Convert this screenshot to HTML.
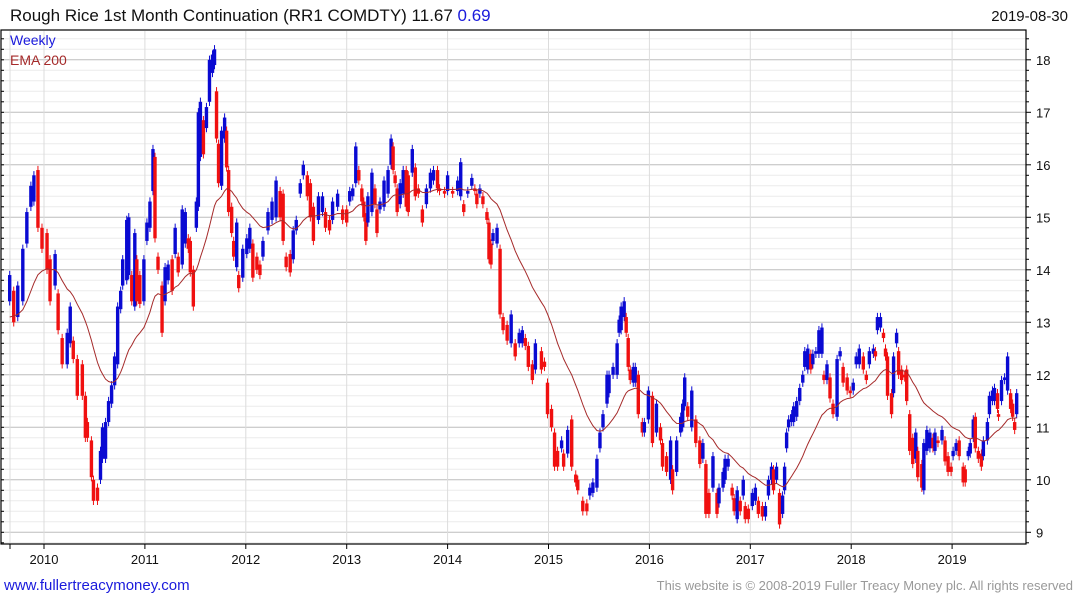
<!DOCTYPE html>
<html><head><meta charset="utf-8">
<style>
html,body{margin:0;padding:0;background:#fff;width:1075px;height:600px;overflow:hidden;font-family:"Liberation Sans","DejaVu Sans",sans-serif;}
svg{display:block}
</style></head>
<body>
<svg id="chart" width="1075" height="600" xmlns="http://www.w3.org/2000/svg">
  <text x="10" y="21" font-size="17" fill="#111">Rough Rice 1st Month Continuation (RR1 COMDTY) 11.67 <tspan fill="#1a1adc">0.69</tspan></text>
  <text x="1068" y="21" font-size="15" fill="#111" text-anchor="end">2019-08-30</text>
  <g id="grid"></g>
  <g id="marks"></g>
  <path id="ema" fill="none" stroke="#a52a2a" stroke-width="1"/>
  <rect x="1" y="30" width="1025" height="514" fill="none" stroke="#000" stroke-width="1.2"/>
  <g id="axes"></g>
  <text x="10" y="45" font-size="14" fill="#1a1adc">Weekly</text>
  <text x="10" y="65" font-size="14" fill="#a52a2a">EMA 200</text>
  <text x="4" y="590" font-size="15" fill="#1a1adc">www.fullertreacymoney.com</text>
  <text x="1073" y="590" font-size="13" fill="#999" text-anchor="end">This website is © 2008-2019 Fuller Treacy Money plc. All rights reserved</text>
</svg>
<script>
const dates=[2009.66,2009.70,2009.74,2009.79,2009.83,2009.87,2009.90,2009.94,2009.98,2010.03,2010.06,2010.11,2010.14,2010.18,2010.23,2010.26,2010.29,2010.33,2010.38,2010.41,2010.43,2010.47,2010.49,2010.53,2010.56,2010.58,2010.61,2010.64,2010.67,2010.70,2010.73,2010.76,2010.78,2010.82,2010.84,2010.87,2010.90,2010.92,2010.95,2010.99,
2011.02,2011.05,2011.08,2011.10,2011.13,2011.17,2011.20,2011.23,2011.27,2011.30,2011.33,2011.37,2011.40,2011.43,2011.45,2011.48,2011.51,2011.53,2011.55,2011.58,2011.61,2011.64,2011.67,2011.69,2011.71,2011.73,2011.76,2011.79,2011.81,2011.83,2011.86,2011.88,2011.91,2011.93,2011.97,
2012.01,2012.04,2012.07,2012.11,2012.14,2012.17,2012.22,2012.26,2012.30,2012.34,2012.37,2012.40,2012.44,2012.47,2012.50,2012.54,2012.57,2012.61,2012.64,2012.67,2012.72,2012.76,2012.79,2012.83,2012.86,2012.91,2012.96,
2013.00,2013.03,2013.06,2013.09,2013.12,2013.15,2013.17,2013.19,2013.21,2013.25,2013.28,2013.30,2013.33,2013.37,2013.41,2013.44,2013.46,2013.48,2013.50,2013.53,2013.56,2013.59,2013.61,2013.65,2013.68,2013.71,2013.75,2013.79,2013.83,2013.86,2013.90,2013.92,2013.97,
2014.00,2014.05,2014.10,2014.13,2014.16,2014.20,2014.24,2014.27,2014.29,2014.32,2014.35,2014.39,2014.41,2014.43,2014.45,2014.49,2014.52,2014.55,2014.59,2014.63,2014.67,2014.71,2014.74,2014.77,2014.80,2014.84,2014.87,2014.93,2014.96,2014.99,
2015.03,2015.06,2015.09,2015.13,2015.15,2015.19,2015.23,2015.27,2015.29,2015.34,2015.38,2015.41,2015.44,2015.48,2015.51,2015.54,2015.58,2015.60,2015.64,2015.68,2015.70,2015.72,2015.75,2015.77,2015.79,2015.81,2015.84,2015.86,2015.89,2015.93,2015.95,2015.99,
2016.03,2016.07,2016.11,2016.13,2016.17,2016.21,2016.23,2016.27,2016.31,2016.33,2016.35,2016.38,2016.42,2016.46,2016.50,2016.53,2016.56,2016.59,2016.63,2016.67,2016.69,2016.73,2016.75,2016.78,2016.82,2016.84,2016.87,2016.90,2016.93,2016.95,2016.98,
2017.02,2017.05,2017.08,2017.12,2017.15,2017.18,2017.21,2017.23,2017.26,2017.29,2017.32,2017.34,2017.36,2017.38,2017.41,2017.43,2017.46,2017.49,2017.52,2017.54,2017.57,2017.60,2017.62,2017.65,2017.68,2017.71,2017.73,2017.76,2017.79,2017.82,2017.86,2017.89,2017.92,2017.96,2017.99,
2018.02,2018.05,2018.08,2018.12,2018.15,2018.18,2018.22,2018.24,2018.26,2018.29,2018.32,2018.34,2018.36,2018.40,2018.42,2018.45,2018.47,2018.50,2018.53,2018.55,2018.58,2018.61,2018.64,2018.66,2018.70,2018.72,2018.75,2018.78,2018.81,2018.83,2018.86,2018.90,2018.93,2018.96,2018.99,
2019.01,2019.04,2019.07,2019.11,2019.13,2019.16,2019.18,2019.21,2019.23,2019.26,2019.29,2019.31,2019.35,2019.37,2019.40,2019.42,2019.45,2019.46,2019.49,2019.52,2019.55,2019.58,2019.60,2019.62,2019.64];
const highs=[13.9,13.6,13.7,14.4,15.1,15.6,15.8,15.9,14.8,14.7,14.2,14.3,13.55,12.7,12.8,13.3,12.65,12.3,12.2,11.6,11.1,10.75,10.0,9.85,10.55,11.0,11.1,11.5,11.8,12.35,13.3,13.6,14.2,14.95,15.0,13.9,14.7,14.2,13.9,14.2,
14.9,15.3,16.3,16.15,14.25,13.7,14.05,14.1,14.2,14.8,14.25,15.15,15.1,14.6,14.55,14.0,15.3,17.0,17.2,16.85,17.1,18.0,18.1,18.2,17.4,16.4,16.65,16.9,16.65,15.9,15.2,14.55,14.9,13.9,14.4,
14.6,14.8,14.5,14.25,14.1,14.55,15.1,15.3,15.7,15.5,15.45,14.25,14.3,14.75,14.95,15.65,16.0,15.8,15.65,15.2,15.4,15.4,15.1,14.95,15.3,15.45,15.15,
15.15,15.5,15.55,16.35,15.9,15.55,15.3,15.0,15.4,15.85,15.55,15.15,15.3,15.7,15.9,16.5,16.35,15.8,15.55,15.65,15.9,15.9,15.8,16.3,15.95,15.55,15.15,15.55,15.85,15.9,15.9,15.55,15.5,
15.8,15.5,15.7,16.05,15.25,15.5,15.75,15.55,15.45,15.55,15.4,15.1,14.9,14.5,14.7,14.8,14.4,13.1,12.95,13.15,12.6,12.8,12.85,12.7,12.55,12.2,12.6,12.45,12.25,11.85,
11.35,10.9,10.55,10.75,10.5,10.95,11.15,10.1,10.0,9.6,9.55,9.85,9.95,10.4,10.9,11.25,12.0,12.0,12.15,12.6,13.05,13.3,13.4,13.1,12.7,12.1,12.15,12.15,12.0,11.1,11.1,11.7,
11.6,11.45,11.0,10.7,10.45,10.75,10.2,10.75,11.2,11.45,11.95,11.4,11.7,11.15,10.75,10.7,10.3,9.75,10.45,9.75,9.85,10.15,10.4,10.4,9.85,9.65,9.8,9.6,10.0,9.5,9.45,
9.75,9.85,9.6,9.5,9.5,10.0,10.25,10.2,10.25,9.75,9.7,10.25,10.9,11.15,11.25,11.4,11.5,11.75,12.0,12.45,12.5,12.4,12.4,12.45,12.85,12.9,12.0,12.2,11.95,11.45,12.3,12.45,12.15,11.95,11.7,
11.85,12.35,12.5,12.35,12.0,12.45,12.5,12.45,13.1,13.1,12.8,12.5,12.35,11.65,12.35,12.8,12.45,12.1,12.0,12.1,11.25,10.8,10.9,10.55,10.3,10.7,10.95,10.9,10.8,10.9,10.75,10.95,10.75,10.45,10.25,
10.55,10.7,10.75,10.25,10.2,10.55,10.7,11.15,11.2,10.55,10.5,10.75,11.1,11.6,11.7,11.75,11.65,11.25,11.9,11.95,12.35,11.65,11.45,11.1,11.65];
const lows=[13.4,13.0,13.1,13.4,14.5,15.2,15.3,14.8,14.4,14.0,13.4,13.7,12.85,12.2,12.2,12.6,12.3,11.6,11.6,10.8,10.8,10.05,9.6,9.6,10.0,10.4,10.4,11.1,11.45,11.8,12.2,13.25,13.7,13.8,13.9,13.4,13.3,13.4,13.35,13.4,
14.55,14.8,15.5,14.6,14.0,12.8,13.4,13.8,13.6,14.3,13.95,14.1,14.5,14.4,13.95,13.3,14.8,15.2,16.15,16.2,16.7,17.2,17.75,17.9,16.5,15.65,15.6,16.5,15.95,15.1,14.7,14.25,14.05,13.65,13.85,
14.3,14.4,13.85,14.0,13.9,14.25,14.75,14.95,15.0,15.0,14.55,14.05,13.95,14.2,14.75,15.45,15.8,15.4,15.0,14.55,14.95,15.1,14.8,14.75,14.95,15.2,14.95,
14.9,15.3,15.4,15.65,15.7,15.3,15.0,14.55,14.9,15.1,15.25,14.7,15.15,15.2,15.45,16.0,15.9,15.65,15.1,15.25,15.45,15.2,15.1,15.85,15.4,15.45,14.9,15.25,15.55,15.7,15.55,15.5,15.45,
15.5,15.45,15.5,15.4,15.1,15.45,15.6,15.5,15.25,15.45,15.25,14.95,14.2,14.1,14.55,14.5,13.15,12.85,12.65,12.6,12.35,12.6,12.6,12.55,12.15,11.9,12.1,12.1,12.15,11.25,
11.0,10.25,10.25,10.6,10.25,10.5,10.25,9.95,9.8,9.4,9.4,9.7,9.75,9.85,10.6,11.0,11.45,11.65,12.0,12.0,12.8,12.85,13.1,12.8,12.15,11.9,11.85,11.85,11.25,10.9,10.9,11.15,
10.7,10.9,10.75,10.25,10.15,10.0,9.8,10.15,10.9,11.0,11.4,11.2,11.0,10.7,10.3,10.4,9.35,9.35,9.85,9.35,9.55,9.85,10.0,10.25,9.7,9.4,9.25,9.4,9.7,9.25,9.25,
9.5,9.6,9.35,9.3,9.3,9.7,10.0,9.8,10.0,9.15,9.35,9.8,10.6,11.0,11.1,11.1,11.2,11.5,11.85,12.15,12.1,12.1,12.2,12.4,12.4,12.4,11.9,11.9,11.55,11.25,11.2,12.35,11.85,11.7,11.65,
11.7,12.2,12.2,12.1,11.9,12.2,12.4,12.35,12.85,12.9,12.7,12.35,11.6,11.25,11.65,12.6,12.0,11.9,11.95,11.5,10.55,10.3,10.4,10.05,9.85,9.8,10.55,10.6,10.6,10.55,10.7,10.75,10.35,10.15,10.15,
10.45,10.55,10.45,9.95,9.95,10.45,10.5,10.8,10.6,10.4,10.25,10.45,10.75,11.25,11.5,11.5,11.35,11.2,11.5,11.9,11.7,11.35,11.2,10.95,11.25];
const yTicks=[9,10,11,12,13,14,15,16,17,18];
const xYears=[2010,2011,2012,2013,2014,2015,2016,2017,2018,2019];
const emaSeed=13.1;

const NS="http://www.w3.org/2000/svg";
const X0=44, PXY=100.9, Y0=532.3, PXV=52.5;
function xOf(t){return X0+(t-2010)*PXY;}
function yOf(v){return Y0-(v-9)*PXV;}
function mk(tag,attrs,parent){const e=document.createElementNS(NS,tag);for(const k in attrs)e.setAttribute(k,attrs[k]);parent.appendChild(e);return e;}
const grid=document.getElementById('grid'),marks=document.getElementById('marks'),axes=document.getElementById('axes');
for(let i=44;i<=93;i++){const v=i/5;const y=yOf(v);if(y<31||y>543)continue;const major=(i%5===0);
  const l=mk('line',{x1:2,x2:1026,y1:y,y2:y,stroke:major?'#bdbdbd':'#ececec','stroke-width':1},grid);
  
  
  const t1=mk('line',{x1:1026,x2:major?1031:1029,y1:y,y2:y,stroke:'#000','stroke-width':1},axes);
  
  
  const t2=mk('line',{x1:1,x2:4,y1:y,y2:y,stroke:'#000','stroke-width':1},axes);
  
  
}
yTicks.forEach(v=>{const t=mk('text',{x:1036,y:yOf(v)+5,'font-size':13,fill:'#111'},axes);t.textContent=String(v);
  
  });
const v0=mk('line',{x1:10,x2:10,y1:31,y2:543,stroke:'#dcdcdc','stroke-width':1},grid);


xYears.forEach(yr=>{const x=xOf(yr);
  const g=mk('line',{x1:x,x2:x,y1:31,y2:543,stroke:'#dcdcdc','stroke-width':1},grid);
  
  
  const tk=mk('line',{x1:x,x2:x,y1:544,y2:549,stroke:'#000','stroke-width':1},axes);
  
  
  const t=mk('text',{x:x,y:564,'font-size':13,fill:'#111','text-anchor':'middle'},axes);t.textContent=String(yr);
  
  });
const tk0=mk('line',{x1:10,x2:10,y1:544,y2:549,stroke:'#000','stroke-width':1},axes);


let prevMid=null;
for(let i=0;i<dates.length;i++){
  const x=xOf(dates[i]),h=highs[i],l=lows[i],mid=(h+l)/2;
  const up=prevMid===null?true:mid>=prevMid;prevMid=mid;
  const col=up?'#0a0ad2':'#f01010';
  const w=mk('line',{x1:x,x2:x,y1:yOf(h+0.08),y2:yOf(l-0.08),stroke:col,'stroke-width':1},marks);
  
  
  const r=mk('rect',{x:x-1.7,y:yOf(h),width:3.4,height:Math.max(1.5,yOf(l)-yOf(h)),fill:col},marks);
  
  
}
let ema=emaSeed,d='';const tau=0.38;
for(let i=0;i<dates.length;i++){
  const mid=(highs[i]+lows[i])/2;
  if(i>0){const dt=dates[i]-dates[i-1];ema+= (1-Math.exp(-dt/tau))*(mid-ema);}
  d+=(i?'L':'M')+xOf(dates[i]).toFixed(1)+','+yOf(ema).toFixed(1);
}
document.getElementById('ema').setAttribute('d',d);
</script>
</body></html>
